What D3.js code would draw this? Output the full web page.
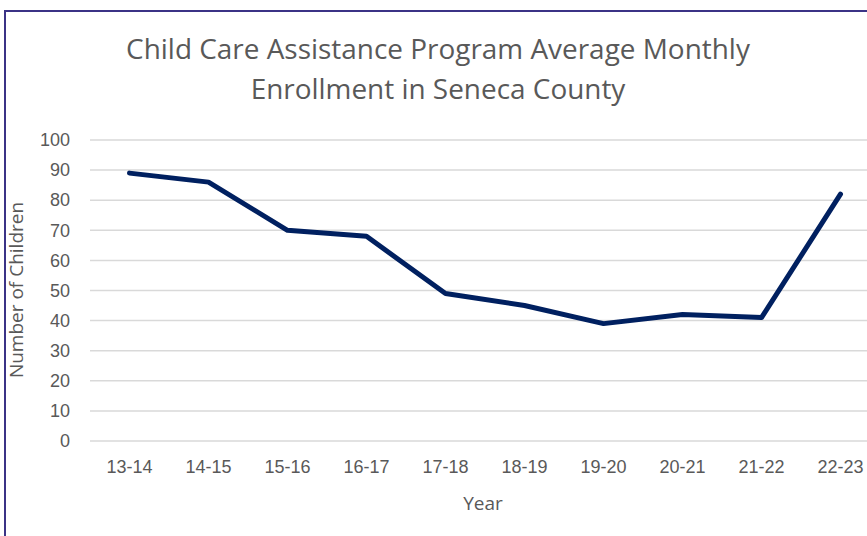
<!DOCTYPE html>
<html><head><meta charset="utf-8">
<script src="https://cdn.jsdelivr.net/npm/d3@7"></script>
<style>body{margin:0;background:#fff;}svg{display:block;}</style>
</head><body>
<svg id="c" width="867" height="536"></svg>
<script>
const categories = ["13-14","14-15","15-16","16-17","17-18","18-19","19-20","20-21","21-22","22-23"];
const values = [89, 86, 70, 68, 49, 45, 39, 42, 41, 82];
const yTicks = [0,10,20,30,40,50,60,70,80,90,100];
const titleLines = ["Child Care Assistance Program Average Monthly", "Enrollment in Seneca County"];
const xTitle = "Year";
const yTitle = "Number of Children";

const svg = d3.select("#c");
const font = "'Open Sans', 'Noto Sans', sans-serif";
const tickFont = "'Liberation Sans', Arial, sans-serif";
const grey = "#595959";

// outer border
svg.append("rect").attr("x",5).attr("y",11).attr("width",900).attr("height",600)
  .attr("fill","#fff").attr("stroke","#3b3386").attr("stroke-width",2);

const pLeft = 90, pRight = 880, pTop = 140, pBottom = 441;
const x = d3.scaleBand().domain(categories).range([pLeft, pRight]);
const y = d3.scaleLinear().domain([0,100]).range([pBottom, pTop]);

// gridlines
svg.append("g").selectAll("line").data(yTicks).join("line")
  .attr("x1",pLeft).attr("x2",pRight)
  .attr("y1",d=>y(d)).attr("y2",d=>y(d))
  .attr("stroke","#d9d9d9").attr("stroke-width",1.5);

// y axis labels
const yAxis = svg.append("g").attr("transform",`translate(${pLeft},0)`)
  .call(d3.axisLeft(y).tickValues(yTicks).tickSize(0).tickPadding(20));
yAxis.select(".domain").remove();
yAxis.selectAll("text").attr("fill",grey).style("font-family",tickFont).style("font-size","18px");

// x axis labels
const xAxis = svg.append("g").attr("transform",`translate(0,${pBottom})`)
  .call(d3.axisBottom(x).tickSize(0).tickPadding(19));
xAxis.select(".domain").remove();
xAxis.selectAll("text").attr("fill",grey).style("font-family",tickFont).style("font-size","18px");

// line
const line = d3.line().x((d,i)=>x(categories[i]) + x.bandwidth()/2).y(d=>y(d));
svg.append("path").datum(values).attr("d",line)
  .attr("fill","none").attr("stroke","#002060").attr("stroke-width",5)
  .attr("stroke-linejoin","round").attr("stroke-linecap","round");

// title
const titles = svg.append("g").selectAll("text").data(titleLines).join("text")
  .attr("x",438).attr("y",(d,i)=>59 + i*40)
  .attr("text-anchor","middle").attr("fill",grey)
  .style("font-family",font).style("font-size","28px").text(d=>d);
// fit first line to reference width
const w0 = titles.node().getComputedTextLength();
if (w0 > 0) titles.style("font-size", (28*624/w0).toFixed(2)+"px");

// axis titles
svg.append("text").attr("x",483).attr("y",510).attr("text-anchor","middle")
  .attr("fill",grey).style("font-family",font).style("font-size","19px").text(xTitle);
svg.append("text").attr("transform","translate(23,290) rotate(-90)").attr("text-anchor","middle")
  .attr("fill",grey).style("font-family",font).style("font-size","19px").text(yTitle);
</script>
</body></html>
